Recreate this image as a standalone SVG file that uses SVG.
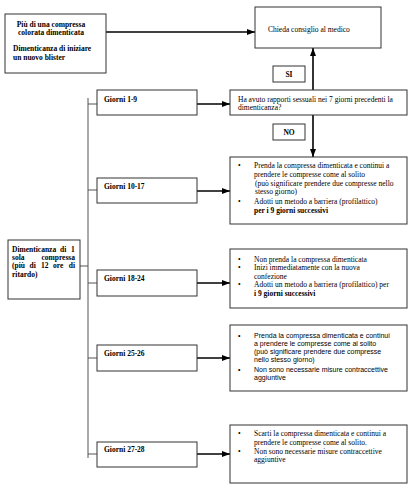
<svg xmlns="http://www.w3.org/2000/svg" width="413" height="500" viewBox="0 0 413 500">
<style>
.box{fill:#fff;stroke:#333;stroke-width:1}
.t{font-family:"Liberation Serif","Times New Roman",serif;font-size:7.5px;fill:#000}
.b{font-weight:bold}
.s{font-family:"Liberation Sans",Arial,sans-serif;font-size:7px;fill:#000}
.arr{stroke:#000;stroke-width:1.6;fill:none;marker-end:url(#ah)}
.ln{stroke:#555;stroke-width:1;fill:none}
</style>
<defs>
<marker id="ah" markerUnits="userSpaceOnUse" markerWidth="8" markerHeight="8" viewBox="0 0 8 8" refX="8" refY="4" orient="auto">
<path d="M0,1 L8,4 L0,7 Z" fill="#000"/>
</marker>
</defs>
<rect width="413" height="500" fill="#fff"/>
<g id="connectors">
<line class="arr" x1="106" y1="32" x2="255" y2="32"/>
<line class="arr" x1="313" y1="90" x2="313" y2="48"/>
<line class="arr" x1="313" y1="115" x2="313" y2="157"/>
<line class="arr" x1="197" y1="104" x2="230" y2="104"/>
<line class="arr" x1="197" y1="191" x2="230" y2="191"/>
<line class="arr" x1="197" y1="283" x2="230" y2="283"/>
<line class="arr" x1="197" y1="358" x2="230" y2="358"/>
<line class="arr" x1="197" y1="454" x2="230" y2="454"/>
<line class="ln" x1="88" y1="98" x2="88" y2="458"/>
<line class="ln" x1="88" y1="104" x2="97" y2="104"/>
<line class="ln" x1="88" y1="190" x2="97" y2="190"/>
<line class="ln" x1="80" y1="266" x2="88" y2="266"/>
<line class="ln" x1="88" y1="283" x2="97" y2="283"/>
<line class="ln" x1="88" y1="358" x2="97" y2="358"/>
<line class="ln" x1="88" y1="454" x2="97" y2="454"/>
</g>
<g id="n-multi">
<rect class="box" x="5" y="14" width="101" height="59"/>
<text class="t b" x="51" y="26.5" text-anchor="middle">Più di una compressa</text>
<text class="t b" x="51" y="34.5" text-anchor="middle">colorata dimenticata</text>
<text class="t b" x="13" y="50.5">Dimenticanza di iniziare</text>
<text class="t b" x="13" y="59.5">un nuovo blister</text>
</g>
<g id="n-medico">
<rect class="box" x="255" y="7" width="126" height="41"/>
<text class="t" x="268" y="31.5">Chieda consiglio al medico</text>
</g>
<g id="n-si">
<rect class="box" x="273" y="66" width="32" height="16"/>
<text class="t b" x="289" y="76.5" text-anchor="middle">SI</text>
</g>
<g id="n-no">
<rect class="box" x="273" y="124" width="32" height="16"/>
<text class="t b" x="289" y="134.5" text-anchor="middle">NO</text>
</g>
<g id="n-domanda">
<rect class="box" x="230" y="90" width="177" height="25"/>
<text class="t" x="238" y="101.5">Ha avuto rapporti sessuali nei 7 giorni precedenti la</text>
<text class="t" x="238" y="109.5">dimenticanza?</text>
</g>
<g id="n-dim1">
<rect class="box" x="8" y="240" width="72" height="59"/>
<text class="t b" y="251.5"><tspan x="12">Dimenticanza</tspan><tspan x="60">di</tspan><tspan x="71">1</tspan></text>
<text class="t b" y="259.5"><tspan x="12">sola</tspan><tspan x="75" text-anchor="end">compressa</tspan></text>
<text class="t b" y="268"><tspan x="12">(più</tspan><tspan x="29.5">di</tspan><tspan x="41">12</tspan><tspan x="53">ore</tspan><tspan x="75" text-anchor="end">di</tspan></text>
<text class="t b" x="12" y="276.5">ritardo)</text>
</g>
<g id="n-g1">
<rect class="box" x="97" y="90" width="100" height="25"/>
<text class="t b" x="104" y="101.5">Giorni 1-9</text>
</g>
<g id="n-g10">
<rect class="box" x="97" y="178" width="100" height="25"/>
<text class="t b" x="104" y="188.5">Giorni 10-17</text>
</g>
<g id="n-g18">
<rect class="box" x="97" y="270" width="100" height="26"/>
<text class="t b" x="104" y="280.5">Giorni 18-24</text>
</g>
<g id="n-g25">
<rect class="box" x="97" y="345" width="100" height="26"/>
<text class="t b" x="104" y="355.5">Giorni 25-26</text>
</g>
<g id="n-g27">
<rect class="box" x="97" y="442" width="100" height="25"/>
<text class="t b" x="104" y="451.5">Giorni 27-28</text>
</g>
<g id="n-r10">
<rect class="box" x="230" y="157" width="177" height="67"/>
<text class="t" x="238" y="168">•</text>
<text class="t" x="254" y="168">Prenda la compressa dimenticata e continui a</text>
<text class="t" x="254" y="176.5">prendere le compresse come al solito</text>
<text class="t" x="255" y="186">(può significare prendere due compresse nello</text>
<text class="t" x="255" y="194">stesso giorno)</text>
<text class="t" x="238" y="203.5">•</text>
<text class="t" x="254" y="203.5">Adotti un metodo a barriera (profilattico)</text>
<text class="t b" x="254" y="212.5">per i 9 giorni successivi</text>
</g>
<g id="n-r18">
<rect class="box" x="230" y="249" width="177" height="59"/>
<text class="t" x="238" y="261.5">•</text>
<text class="t" x="254" y="261.5">Non prenda la compressa dimenticata</text>
<text class="t" x="238" y="269.5">•</text>
<text class="t" x="254" y="269.5">Inizi immediatamente con la nuova</text>
<text class="t" x="254" y="278.5">confezione</text>
<text class="t" x="238" y="286.5">•</text>
<text class="t" x="254" y="286.5">Adotti un metodo a barriera (profilattico) per</text>
<text class="t b" x="254" y="295.5">i 9 giorni successivi</text>
</g>
<g id="n-r25">
<rect class="box" x="230" y="325" width="177" height="66"/>
<text class="s" x="238" y="337.5">•</text>
<text class="s" x="254" y="337.5">Prenda la compressa dimenticata e continui</text>
<text class="s" x="254" y="345.5">a prendere le compresse come al solito</text>
<text class="s" x="254" y="354">(può significare prendere due compresse</text>
<text class="s" x="254" y="362">nello stesso giorno)</text>
<text class="s" x="238" y="371.5">•</text>
<text class="s" x="254" y="371.5">Non sono necessarie misure contraccettive</text>
<text class="s" x="254" y="379.5">aggiuntive</text>
</g>
<g id="n-r27">
<rect class="box" x="230" y="425" width="177" height="58"/>
<text class="t" x="238" y="435.5">•</text>
<text class="t" x="254" y="435.5">Scarti la compressa dimenticata e continui a</text>
<text class="t" x="254" y="444.5">prendere le compresse come al solito.</text>
<text class="t" x="238" y="453.5">•</text>
<text class="t" x="254" y="453.5">Non sono necessarie misure contraccettive</text>
<text class="t" x="254" y="461.5">aggiuntive</text>
</g>
</svg>
